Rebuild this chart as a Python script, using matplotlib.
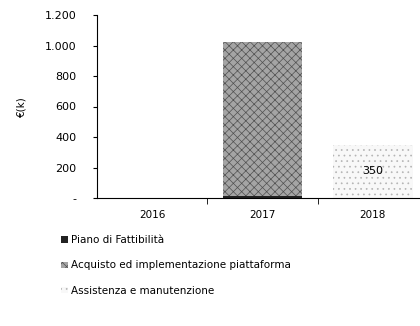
import matplotlib.pyplot as plt
import numpy as np

years = ['2016', '2017', '2018']
piano = [0, 15, 0]
acquisto = [0, 1010, 0]
assistenza = [0, 0, 350]
yticks = [0, 200, 400, 600, 800, 1000, 1200]
ytick_labels = ['-', '200', '400', '600', '800', '1.000', '1.200']

plt.rcParams['font.family'] = 'DejaVu Sans'
plt.rcParams['hatch.linewidth'] = 0.5

fig = plt.figure(figsize=(4.2, 3.26), dpi=100)
ax = fig.add_axes([97 / 420, 128 / 326, 331 / 420, 183 / 326])

x = np.arange(len(years))
w = 0.72
ax.bar(x, piano, w, color='#222222', label='Piano di Fattibilità')
ax.bar(x, acquisto, w, bottom=piano, color='#a4a4a4', hatch='xxxx',
       edgecolor='#505050', linewidth=0, label='Acquisto ed implementazione piattaforma')
ax.bar(x, assistenza, w, bottom=np.array(piano) + np.array(acquisto),
       color='#f8f8f8', hatch='...', edgecolor='#b4b4b4', linewidth=0,
       label='Assistenza e manutenzione')
ax.text(x[2], 350 / 2, '350', ha='center', va='center', fontsize=8)

ax.set_xlim(-0.5, 2.5)
ax.set_ylim(0, 1200)
ax.set_yticks(yticks)
ax.set_yticklabels(ytick_labels, fontsize=8)
ax.set_xticks(x)
ax.set_xticklabels(years, fontsize=7.5)
ax.set_xticks([0.5, 1.5], minor=True)
ax.tick_params(axis='x', which='major', length=0, pad=9)
ax.tick_params(axis='x', which='minor', length=4, direction='out')
ax.tick_params(axis='y', length=3, direction='out', pad=12)
ax.set_ylabel('€(k)', fontsize=7.5, labelpad=13)
for s in ['top', 'right']:
    ax.spines[s].set_visible(False)

handles, labels = ax.get_legend_handles_labels()
fig.legend(handles, labels, loc='upper left', bbox_to_anchor=(52 / 420, 1 - 226 / 326),
           frameon=False, fontsize=7.5, handlelength=0.6, handleheight=0.6,
           handletextpad=0.3, labelspacing=1.45)

fig.savefig('out.png', dpi=100)
